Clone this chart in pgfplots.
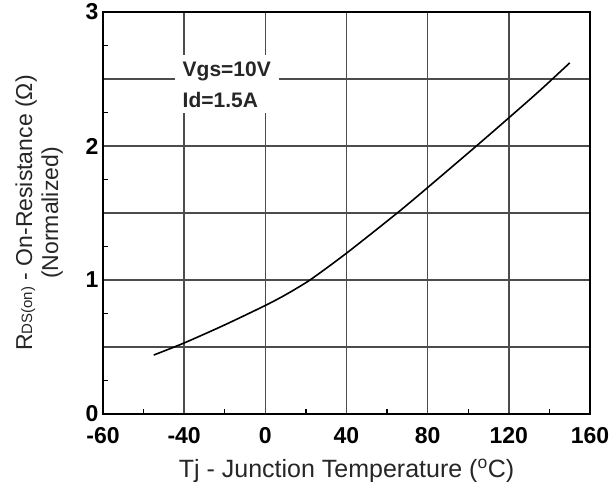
\documentclass[border=0pt]{standalone}
\usepackage{fontspec}
\setmainfont{Liberation Sans}
\usepackage{pgfplots}
\pgfplotsset{compat=1.18}

\begin{document}
\begin{tikzpicture}
\begin{axis}[
    at={(0pt,0pt)}, anchor=south west,
    scale only axis,
    width=487pt, height=402pt,
    xmin=-80, xmax=160,
    ymin=0, ymax=3,
    xtick={-80,-40,0,40,80,120,160},
    xticklabels={-60,-40,0,40,80,120,160},
    minor xtick={-60,-20,20,60,100,140},
    ytick={0,0.5,1,1.5,2,2.5,3},
    yticklabels={0,,1,,2,,3},
    minor ytick={0.25,0.75,1.25,1.75,2.25,2.75},
    tick pos=left,
    tick align=inside,
    major tick length=0pt,
    minor tick length=5pt,
    every tick/.style={black, line width=1.5pt},
    grid=major,
    major grid style={draw=black!70, line width=1.4pt},
    axis line style={black, line width=2pt},
    /pgf/number format/assume math mode=true,
    ticklabel style={font=\fontsize{23}{23}\selectfont\bfseries, text=black},
    xticklabel style={yshift=-10pt},
    yticklabel style={xshift=-1pt},
    xlabel={Tj - Junction Temperature (\textsuperscript{o}C)},
    xlabel style={font=\fontsize{25}{25}\selectfont, text=black!85, yshift=-8pt},
    ylabel={R{\fontsize{15}{15}\selectfont DS(on)} - On-Resistance (Ω)\\(Normalized)},
    ylabel style={font=\fontsize{23}{26}\selectfont, align=center, text=black!85, yshift=16pt},
]
\addplot[black, line width=1.6pt, smooth, tension=0.4] coordinates {
    (-55,0.44) (-40,0.53) (-20,0.665) (0,0.81) (10,0.89) (22,1.0)
    (40,1.2) (65,1.5) (80,1.69) (104,2.0) (120,2.21) (135,2.41) (150,2.62)
};
\node[fill=white, inner xsep=8pt, inner ysep=6pt, align=left,
      font=\fontsize{21}{31}\selectfont\bfseries, text=black!85]
    at (axis cs:-19,2.46) {Vgs=10V\\Id=1.5A};
\end{axis}
\pgfresetboundingbox
\useasboundingbox (-103pt,-68pt) rectangle (508pt,414pt);
\end{tikzpicture}
\end{document}
